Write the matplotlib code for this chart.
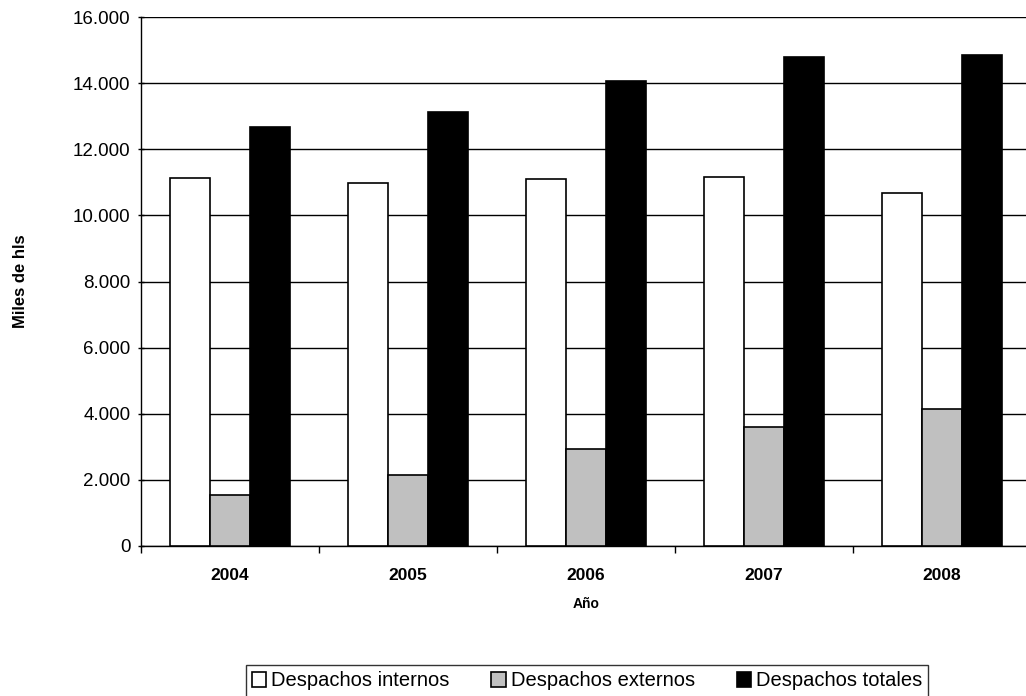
import numpy as np
import matplotlib.pyplot as plt
from matplotlib.ticker import FuncFormatter

plt.rcParams['font.family'] = ['Liberation Sans', 'DejaVu Sans']

years = ['2004', '2005', '2006', '2007', '2008']
internos = [11117, 10966, 11104, 11165, 10672]
externos = [1555, 2139, 2926, 3601, 4136]
totales = [12660, 13132, 14061, 14777, 14838]

series = [('Despachos internos', internos, 'white'),
          ('Despachos externos', externos, '#c0c0c0'),
          ('Despachos totales', totales, 'black')]

fig = plt.figure(figsize=(10.26, 6.96), dpi=100)
ax = fig.add_axes([141/1026, 1 - 546/696, 890/1026, (546-17)/696])

x = np.arange(len(years))
w = 0.225
for i, (name, vals, col) in enumerate(series):
    ax.bar(x + (i - 1) * w, vals, w, color=col, edgecolor='black',
           linewidth=1.2, label=name, zorder=3)

ax.set_xlim(-0.5, len(years) - 0.5)
ax.set_ylim(0, 16000)
ax.set_yticks(np.arange(0, 16001, 2000))
ax.yaxis.set_major_formatter(FuncFormatter(lambda v, p: f'{int(v):,}'.replace(',', '.')))
ax.yaxis.grid(True, color='black', linewidth=1, zorder=0)

ax.set_xticks(x)
ax.set_xticklabels(years, fontweight='bold', fontsize=12.5)
ax.set_xticks(np.arange(-0.5, len(years)), minor=True)
ax.tick_params(axis='x', which='major', length=0, pad=16)
ax.tick_params(axis='x', which='minor', length=5, direction='out', width=1)
ax.tick_params(axis='y', length=5, direction='inout', width=1, labelsize=13.5, pad=5)

for s in ['top', 'right']:
    ax.spines[s].set_visible(False)
ax.spines['left'].set_linewidth(1)
ax.spines['bottom'].set_linewidth(1)

ax.set_xlabel('Año', fontweight='bold', fontsize=10)
ax.xaxis.set_label_coords(0.5, (546 - 604) / 529, transform=ax.transAxes)
ax.xaxis.label.set_va('center')
ax.set_ylabel('Miles de hls', fontweight='bold', fontsize=12)
ax.yaxis.set_label_coords((20 - 141) / 890, 0.5, transform=ax.transAxes)
ax.yaxis.label.set_va('center')

leg = fig.legend(loc='center', bbox_to_anchor=((237 + 937) / 2 / 1026, 1 - 681/696),
                 ncol=3, fontsize=14.5, frameon=True, fancybox=False,
                 edgecolor='black', handlelength=0.7, handleheight=0.7,
                 handletextpad=0.25, columnspacing=2.1, borderpad=0.3,
                 borderaxespad=0)
leg.get_frame().set_linewidth(1)

fig.savefig('out.png', dpi=100)
